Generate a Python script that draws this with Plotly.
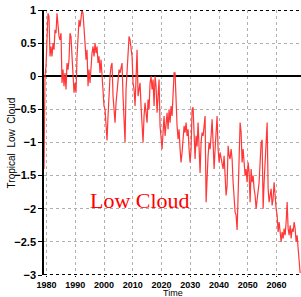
import numpy as np
import plotly.graph_objects as go

# Tropical low cloud anomaly (roughly 3 samples per year)
low_cloud = [
    -1.4, 0.0, 0.15, 0.5, 0.95, 0.9, 0.3, 0.45, 0.3, 0.5,
    0.4, 0.7, 0.65, 0.95, 0.7, 0.6, 0.55, 0.65, -0.1, 0.1,
    -0.15, 0.05, -0.2, 0.2, 0.1, 0.25, 0.65, 0.6, 0.3, -0.05,
    -0.25, -0.1, -0.25, 0.3, 0.6, 0.85, 0.75, 0.9, 1.0, 0.95,
    0.6, 0.5, 0.25, 0.4, -0.15, 0.1, -0.1, 0.2, 0.35, 0.45,
    0.3, 0.5, 0.35, 0.45, 0.2, 0.3, 0.05, 0.25, -0.05, -0.2,
    -0.45, -0.5, -0.75, -0.97, -0.6, -0.2, 0.0, 0.15, 0.2, -0.3,
    -0.5, -0.7, -0.4, -0.25, -0.05, 0.1, 0.05, 0.15, 0.2, -0.3,
    -0.7, -1.0, -0.2, 0.15, 0.35, 0.6, 0.55, 0.45, 0.3, -0.1,
    -0.2, -0.45, -0.1, 0.4, -0.3, -0.15, -0.1, -0.45, -0.8, -1.0,
    -0.6, -0.4, -0.55, -0.7, -0.35, -0.5, -0.1, 0.0, -0.2, -0.05,
    -0.45, 0.0, -0.15, -0.55, -0.3, -0.05, -0.75, -1.0, -1.1, -0.85,
    -0.6, -0.9, -0.75, -0.55, -0.8, -0.5, -0.7, -0.45, -0.6, -0.3,
    0.05, 0.05, -0.5, -0.75, -0.95, -0.8, -1.1, -1.3, -1.15, -0.9,
    -0.75, -0.85, -0.7, -0.9, -0.8, -1.1, -1.3, -1.1, -0.5, -0.47,
    -0.8, -1.25, -0.9, -1.06, -0.7, -1.1, -1.46, -1.0, -0.85, -0.9,
    -0.75, -0.6, -1.9, -1.4, -1.2, -1.0, -1.1, -0.9, -0.65, -1.0,
    -1.4, -1.1, -0.8, -0.6, -1.1, -1.3, -1.15, -1.25, -1.3, -1.4,
    -1.2, -1.6, -1.8, -1.65, -1.05, -1.2, -1.25, -1.1, -1.25, -1.6,
    -1.9, -2.05, -2.1, -2.32, -1.8, -1.3, -0.7, -0.85, -1.3, -1.1,
    -1.35, -1.5, -1.4, -1.6, -1.3, -1.45, -1.9, -1.4, -1.6, -1.5,
    -1.7, -1.8, -2.0, -1.85, -1.7, -1.6, -1.3, -1.0, -0.96, -2.0,
    -1.6, -1.35, -1.0, -0.7, -1.7, -1.9, -1.8, -1.7, -1.95, -1.85,
    -1.6, -1.9, -2.0, -2.1, -2.35, -2.2, -2.4, -2.5, -2.35, -2.45,
    -2.3, -2.4, -2.2, -1.9, -2.3, -2.4, -2.25, -2.45, -2.3, -2.35,
    -2.2, -2.3, -2.5, -2.4, -2.6, -2.8, -2.97,
]
time = np.linspace(1979.1, 2068.2, len(low_cloud))

x_ticks = [1980, 1990, 2000, 2010, 2020, 2030, 2040, 2050, 2060]
y_ticks = [1, 0.5, 0, -0.5, -1, -1.5, -2, -2.5, -3]
y_labels = ["1", "0.5", "0", "\u22120.5", "\u22121", "\u22121.5", "\u22122", "\u22122.5", "\u22123"]

fig = go.Figure()
fig.add_trace(go.Scatter(x=time, y=low_cloud, mode="lines",
                         line=dict(color="rgb(255,55,55)", width=1.2),
                         showlegend=False, hoverinfo="skip"))

fig.add_shape(type="line", xref="paper", yref="y", x0=0, x1=1, y0=1, y1=1,
              line=dict(color="black", width=2, dash="dot"), layer="above")
fig.add_shape(type="line", xref="paper", yref="y", x0=0, x1=1, y0=-3, y1=-3,
              line=dict(color="black", width=2, dash="dot"), layer="above")

fig.add_annotation(x=2012.5, y=-1.87, xref="x", yref="y", text="Low Cloud",
                   showarrow=False,
                   font=dict(family="Liberation Serif, Times New Roman, serif", size=22, color="red"))

# axis titles placed as annotations to match the reference positions
fig.add_annotation(x=0.5, y=-0.092, xref="paper", yref="paper", text="Time",
                   showarrow=False, yanchor="bottom", borderpad=0,
                   font=dict(size=9, color="black"))
fig.add_annotation(x=-0.125, y=0.5, xref="paper", yref="paper", text="Tropical  Low  Cloud",
                   showarrow=False, textangle=-90, xanchor="center",
                   font=dict(size=10, color="black"))

grid_col = "#b0b0b0"
fig.update_layout(
    width=301, height=297,
    margin=dict(l=44, r=0, t=10, b=22),
    paper_bgcolor="white", plot_bgcolor="white",
    font=dict(family="Liberation Sans, Arial, sans-serif", color="black"),
    xaxis=dict(range=[1979.1, 2068.5], tickvals=x_ticks,
               ticktext=[str(v) for v in x_ticks],
               tickfont=dict(family="Liberation Sans Narrow, Liberation Sans, Arial", size=9, weight="bold"),
               ticks="outside", ticklen=1, tickcolor="black",
               showgrid=True, gridcolor=grid_col, griddash="dot", gridwidth=1,
               zeroline=False, showline=False, automargin=False),
    yaxis=dict(range=[-3, 1], tickvals=y_ticks, ticktext=y_labels,
               tickfont=dict(size=11, weight="bold"),
               ticks="outside", ticklen=4, tickcolor="black",
               showgrid=True, gridcolor=grid_col, griddash="dot", gridwidth=1,
               zeroline=True, zerolinecolor="black", zerolinewidth=1.5,
               showline=True, linecolor="black", linewidth=1.5, automargin=False),
)

fig.write_html("out.html", config={"displayModeBar": False},
               post_script="document.body.style.margin='0px';")
